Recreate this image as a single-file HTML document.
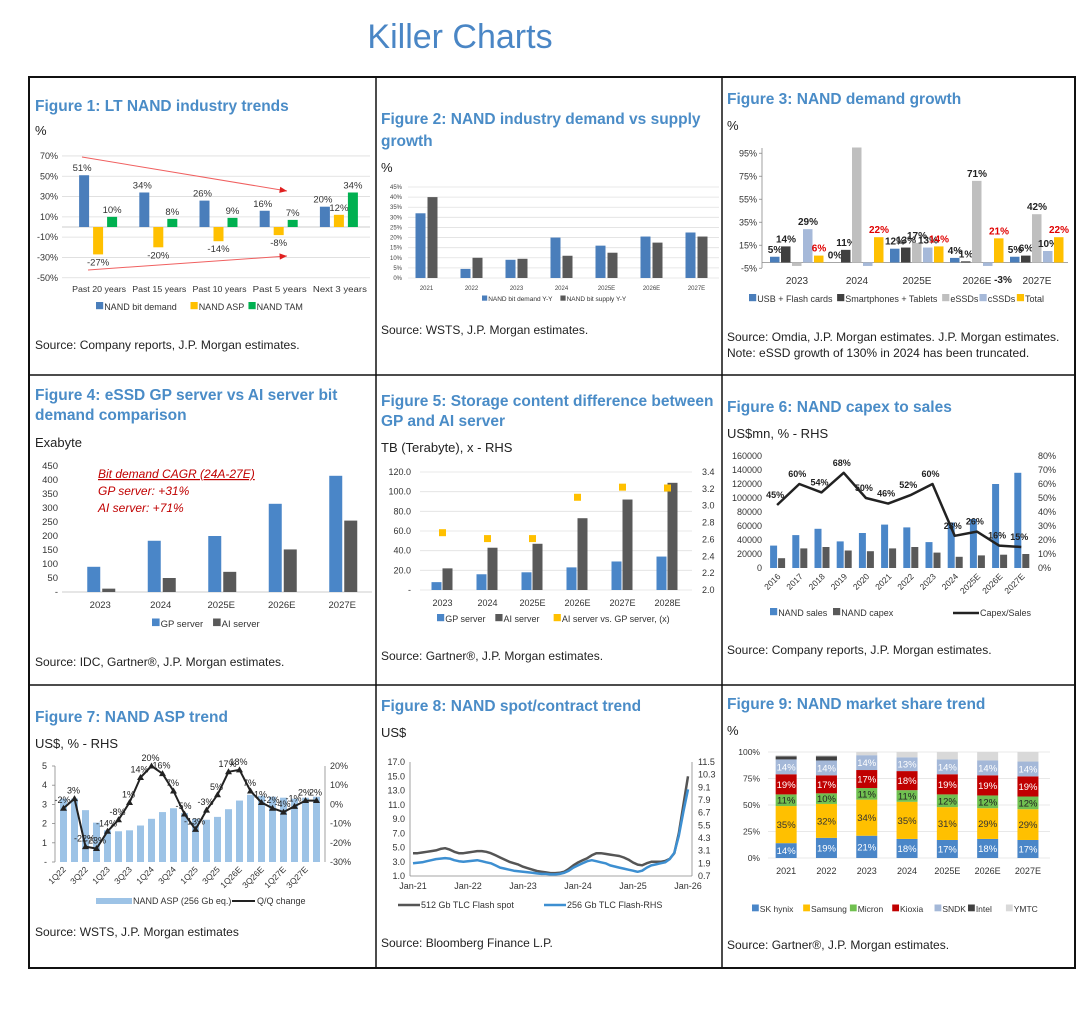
<!DOCTYPE html>
<html><head><meta charset="utf-8"><style>
html,body{margin:0;padding:0;background:#fff;}
svg{display:block;font-family:"Liberation Sans",sans-serif;}
.t{fill:#4a8cc7;font-weight:bold;font-size:15.5px;}
.s{fill:#222;font-size:12px;}
.u{fill:#222;font-size:13px;}
.k{fill:#333;font-size:9px;}
</style></head><body>
<svg id="chart" width="1080" height="1012" viewBox="0 0 1080 1012">
<text x="460" y="48" text-anchor="middle" font-size="34" fill="#4a86c5">Killer Charts</text>
<rect x="29" y="77" width="1046" height="891" fill="none" stroke="#111" stroke-width="2"/>
<line x1="376" y1="77" x2="376" y2="968" stroke="#111" stroke-width="1.5"/>
<line x1="722" y1="77" x2="722" y2="968" stroke="#111" stroke-width="1.5"/>
<line x1="29" y1="375" x2="1075" y2="375" stroke="#111" stroke-width="1.5"/>
<line x1="29" y1="685" x2="1075" y2="685" stroke="#111" stroke-width="1.5"/>

<text class="t" x="35" y="111">Figure 1: LT NAND industry trends</text>
<text class="u" x="35" y="135">%</text>
<text class="s" x="35" y="349">Source: Company reports, J.P. Morgan estimates.</text>

<text class="t" x="381" y="124">Figure 2: NAND industry demand vs supply</text>
<text class="t" x="381" y="146">growth</text>
<text class="u" x="381" y="172">%</text>
<text class="s" x="381" y="334">Source: WSTS, J.P. Morgan estimates.</text>

<text class="t" x="727" y="104">Figure 3: NAND demand growth</text>
<text class="u" x="727" y="130">%</text>
<text class="s" x="727" y="341">Source: Omdia, J.P. Morgan estimates. J.P. Morgan estimates.</text>
<text class="s" x="727" y="357">Note: eSSD growth of 130% in 2024 has been truncated.</text>

<text class="t" x="35" y="400">Figure 4: eSSD GP server vs AI server bit</text>
<text class="t" x="35" y="420">demand comparison</text>
<text class="u" x="35" y="447">Exabyte</text>
<text x="98" y="478" font-size="12" font-style="italic" fill="#c00000" text-decoration="underline">Bit demand CAGR (24A-27E)</text>
<text x="98" y="495" font-size="12" font-style="italic" fill="#c00000">GP server: +31%</text>
<text x="98" y="512" font-size="12" font-style="italic" fill="#c00000">AI server: +71%</text>
<text class="s" x="35" y="666">Source: IDC, Gartner®, J.P. Morgan estimates.</text>

<text class="t" x="381" y="406">Figure 5: Storage content difference between</text>
<text class="t" x="381" y="426">GP and AI server</text>
<text class="u" x="381" y="452">TB (Terabyte), x - RHS</text>
<text class="s" x="381" y="660">Source: Gartner®, J.P. Morgan estimates.</text>

<text class="t" x="727" y="412">Figure 6: NAND capex to sales</text>
<text class="u" x="727" y="438">US$mn, % - RHS</text>
<text class="s" x="727" y="654">Source: Company reports, J.P. Morgan estimates.</text>

<text class="t" x="35" y="722">Figure 7: NAND ASP trend</text>
<text class="u" x="35" y="748">US$, % - RHS</text>
<text class="s" x="35" y="936">Source: WSTS, J.P. Morgan estimates</text>

<text class="t" x="381" y="711">Figure 8: NAND spot/contract trend</text>
<text class="u" x="381" y="737">US$</text>
<text class="s" x="381" y="947">Source: Bloomberg Finance L.P.</text>

<text class="t" x="727" y="709">Figure 9: NAND market share trend</text>
<text class="u" x="727" y="735">%</text>
<text class="s" x="727" y="949">Source: Gartner®, J.P. Morgan estimates.</text>
</svg>
<script>
// ---------- data ----------
const f1Cats=['Past 20 years','Past 15 years','Past 10 years','Past 5 years','Next 3 years'];
const f1Demand=[51,34,26,16,20];
const f1ASP=[-27,-20,-14,-8,12];
const f1TAM=[10,8,9,7,34];
const f1Ticks=[70,50,30,10,-10,-30,-50];

const f2Cats=['2021','2022','2023','2024','2025E','2026E','2027E'];
const f2Demand=[32,4.5,9,20,16,20.5,22.5];
const f2Supply=[40,10,9.5,11,12.5,17.5,20.5];
const f2Ticks=[0,5,10,15,20,25,30,35,40,45];

const f3Cats=['2023','2024','2025E','2026E','2027E'];
const f3USB=[5,0,12,4,5];
const f3Phone=[14,11,13,1,6];
const f3eSSD=[-3,100,17,71,42];
const f3cSSD=[29,-3,13,-3,10];
const f3Total=[6,22,14,21,22];
const f3Ticks=[95,75,55,35,15,-5];

const f4Cats=['2023','2024','2025E','2026E','2027E'];
const f4GP=[90,183,200,315,415];
const f4AI=[12,50,72,152,255];
const f4Ticks=[0,50,100,150,200,250,300,350,400,450];

const f5Cats=['2023','2024','2025E','2026E','2027E','2028E'];
const f5GP=[8,16,18,23,29,34];
const f5AI=[22,43,47,73,92,109];
const f5Ratio=[2.68,2.61,2.61,3.1,3.22,3.21];
const f5LTicks=[0,20,40,60,80,100,120];
const f5RTicks=[2.0,2.2,2.4,2.6,2.8,3.0,3.2,3.4];

const f6Cats=['2016','2017','2018','2019','2020','2021','2022','2023','2024','2025E','2026E','2027E'];
const f6Sales=[32000,47000,56000,38000,50000,62000,58000,37000,65000,70000,120000,136000];
const f6Capex=[14000,28000,30000,25000,24000,28000,30000,22000,16000,18000,19000,20000];
const f6Ratio=[45,60,54,68,50,46,52,60,23,26,16,15];
const f6LTicks=[0,20000,40000,60000,80000,100000,120000,140000,160000];
const f6RTicks=[0,10,20,30,40,50,60,70,80];

const f7Cats=['1Q22','2Q22','3Q22','4Q22','1Q23','2Q23','3Q23','4Q23','1Q24','2Q24','3Q24','4Q24','1Q25','2Q25','3Q25','4Q25','1Q26E','2Q26E','3Q26E','4Q26E','1Q27E','2Q27E','3Q27E','4Q27E'];
const f7ASP=[3.3,3.3,2.7,2.05,1.65,1.6,1.65,1.9,2.25,2.6,2.8,2.55,2.25,2.2,2.35,2.75,3.2,3.5,3.45,3.4,3.35,3.3,3.35,3.4];
const f7QoQ=[-2,3,-22,-23,-14,-8,1,14,20,16,7,-5,-13,-3,5,17,18,7,1,-2,-4,-1,2,2];
const f7LTicks=[0,1,2,3,4,5];
const f7RTicks=[-30,-20,-10,0,10,20];

const f8XLabels=['Jan-21','Jan-22','Jan-23','Jan-24','Jan-25','Jan-26'];
const f8Spot=[4.2,4.2,4.3,4.4,4.5,4.6,4.8,4.9,4.7,4.4,4.2,4.2,
4.3,4.4,4.5,4.5,4.4,4.2,3.9,3.6,3.3,3.0,2.8,2.6,
2.3,2.1,1.9,1.7,1.6,1.5,1.4,1.4,1.45,1.6,2.0,2.5,
2.9,3.2,3.5,3.9,4.2,4.2,4.1,4.0,3.9,3.8,3.6,3.3,
2.9,2.6,2.5,2.8,3.0,3.0,3.0,3.1,3.4,4.2,7.0,11.0,15.0];
const f8Contract=[1.9,1.95,2.0,2.1,2.2,2.3,2.35,2.4,2.35,2.2,2.1,2.05,
2.1,2.15,2.2,2.1,2.0,1.9,1.7,1.5,1.4,1.3,1.2,1.15,
1.1,1.05,1.0,0.95,0.9,0.9,0.85,0.85,0.9,1.0,1.2,1.5,
1.7,1.9,2.1,2.2,2.1,2.0,1.9,1.7,1.6,1.5,1.4,1.3,
1.2,1.1,1.2,1.5,1.7,1.8,1.9,2.0,2.3,2.9,4.5,6.8,8.9];
const f8LTicks=[1,3,5,7,9,11,13,15,17];
const f8RTicks=[0.7,1.9,3.1,4.3,5.5,6.7,7.9,9.1,10.3,11.5];

const f9Cats=['2021','2022','2023','2024','2025E','2026E','2027E'];
const f9SK=[14,19,21,18,17,18,17];
const f9Samsung=[35,32,34,35,31,29,29];
const f9Micron=[11,10,11,11,12,12,12];
const f9Kioxia=[19,17,17,18,19,19,19];
const f9SNDK=[14,14,14,13,14,14,14];
const f9Intel=[3,4,0,0,0,0,0];
const f9YMTC=[1,1,3,5,7,8,9];
const f9Ticks=[0,25,50,75,100];

// ---------- helpers ----------
const NS='http://www.w3.org/2000/svg';
const svg=document.getElementById('chart');
function mk(tag,a,name){const e=document.createElementNS(NS,tag);for(const k in a)e.setAttribute(k,a[k]);


svg.appendChild(e);return e;}
function rect(x,y,w,h,fill,name){return mk('rect',{x:x,y:Math.min(y,y+h),width:w,height:Math.abs(h),fill:fill},name);}
function line(x1,y1,x2,y2,st,sw,name){return mk('line',{x1:x1,y1:y1,x2:x2,y2:y2,stroke:st,'stroke-width':sw},name);}
function text(x,y,s,size,anchor,fill,name,extra){const e=mk('text',Object.assign({x:x,y:y,'font-size':size,'text-anchor':anchor||'start',fill:fill||'#333'},extra||{}),name);e.textContent=s;return e;}
function poly(pts,st,sw,name){return mk('polyline',{points:pts.map(p=>p[0].toFixed(1)+','+p[1].toFixed(1)).join(' '),fill:'none',stroke:st,'stroke-width':sw,'stroke-linejoin':'round'},name);}
function legend(items,x,y,size,cf){cf=cf||0.52;let cx=x;items.forEach(it=>{
 rect(cx,y-size+1,size*0.8,size*0.8,it[1],'legend-swatch');
 const w=size*0.8;
 text(cx+w+1,y,it[0],size,'start','#333','legend-entry');cx+=w+2+it[0].length*size*cf+7;});}

// ---------- Figure 1 ----------
(function(){const y=v=>227-v*1.015;const x0=69,cw=60.2;
f1Ticks.forEach(t=>{line(62,y(t),370,y(t),'#dcdcdc',0.8,'fig1-gridline');text(58,y(t)+3,t+'%',9,'end','#333','fig1-y-tick');});
line(62,y(0),370,y(0),'#ccc',1,'fig1-zero-line');
const ser=[f1Demand,f1ASP,f1TAM],col=['#4a7ebb','#ffc000','#00b050'];
f1Cats.forEach((c,i)=>{const cx=x0+cw*(i+0.5);
 ser.forEach((s,j)=>{const bx=cx-20+j*14;rect(bx,y(0),10,y(s[i])-y(0),col[j],'fig1-bar');
  const ly=s[i]>=0?y(s[i])-4:y(s[i])+11;text(bx+5-(j==0?2:0),ly,s[i]+'%',9.5,'middle','#333','fig1-bar-label');});
 text(cx,292,c,8.6,'middle','#333','fig1-x-label',{textLength:54,lengthAdjust:'spacingAndGlyphs'});});
const ah=(x1,y1,x2,y2)=>{line(x1,y1,x2,y2,'#f06060',1,'fig1-trend-arrow');const a=Math.atan2(y2-y1,x2-x1);
 mk('polygon',{points:[[x2,y2],[x2-8*Math.cos(a-0.4),y2-8*Math.sin(a-0.4)],[x2-8*Math.cos(a+0.4),y2-8*Math.sin(a+0.4)]].map(p=>p.join(',')).join(' '),fill:'#e02020'},'fig1-arrow-head');};
ah(82,157,287,191);ah(88,270,287,256);
legend([['NAND bit demand','#4a7ebb'],['NAND ASP','#ffc000'],['NAND TAM','#00b050']],96,310,9,0.58);
})();

// ---------- Figure 2 ----------
(function(){const y=v=>278-v*(91/45);const x0=404,cw=45;
f2Ticks.forEach(t=>{line(408,y(t),719,y(t),'#e0e0e0',0.8,'fig2-gridline');text(402,y(t)+2,t+'%',6,'end','#444','fig2-y-tick');});
f2Cats.forEach((c,i)=>{const cx=x0+cw*(i+0.5);
 rect(cx-11,y(f2Demand[i]),10,y(0)-y(f2Demand[i]),'#4a7ebb','fig2-bar-demand');
 rect(cx+1,y(f2Supply[i]),10,y(0)-y(f2Supply[i]),'#595959','fig2-bar-supply');
 text(cx,290,c,6,'middle','#444','fig2-x-label');});
legend([['NAND bit demand Y-Y','#4a7ebb'],['NAND bit supply Y-Y','#595959']],482,301,6.5);
})();

// ---------- Figure 3 ----------
(function(){const y=v=>262.5-v*1.15;const x0=767,cw=60;
f3Ticks.forEach(t=>{text(757,y(t)+3,t+'%',9,'end','#333','fig3-y-tick');line(759,y(t),762,y(t),'#888',0.8,'fig3-tick-mark');});
line(762,148,762,268,'#888',0.8,'fig3-y-axis');line(762,y(0),1068,y(0),'#888',0.8,'fig3-x-axis');
const ser=[f3USB,f3Phone,f3eSSD,f3cSSD,f3Total],col=['#4a7ebb','#404040','#bfbfbf','#a6b9d9','#ffc000'];
f3Cats.forEach((c,i)=>{const cx=x0+cw*(i+0.5);
 ser.forEach((s,j)=>{const bx=cx-27+j*11;rect(bx,y(0),9.5,y(s[i])-y(0),col[j],'fig3-bar');
  if(s[i]>=0&&!(j==2&&i==1)){text(bx+5,y(s[i])-4,s[i]+'%',10,'middle',j==4?'#e00000':'#222','fig3-bar-label',{'font-weight':'bold'});}
  if(s[i]<0&&i==3&&j==3){text(bx+20,283,s[i]+'%',10,'middle','#222','fig3-bar-label',{'font-weight':'bold'});}});
 text(cx,284,c,10,'middle','#333','fig3-x-label');});
legend([['USB + Flash cards','#4a7ebb'],['Smartphones + Tablets','#404040'],['eSSDs','#bfbfbf'],['cSSDs','#a6b9d9'],['Total','#ffc000']],749,302,9,0.47);
})();

// ---------- Figure 4 ----------
(function(){const y=v=>592-v*0.28;const x0=70,cw=60.5;
f4Ticks.forEach(t=>{text(58,y(t)+3,t===0?'-':String(t),9.5,'end','#333','fig4-y-tick');});
line(62,y(0),372,y(0),'#ccc',1,'fig4-x-axis');
f4Cats.forEach((c,i)=>{const cx=x0+cw*(i+0.5);
 rect(cx-13,y(f4GP[i]),13,y(0)-y(f4GP[i]),'#4a86c8','fig4-bar-gp');
 rect(cx+2,y(f4AI[i]),13,y(0)-y(f4AI[i]),'#595959','fig4-bar-ai');
 text(cx,608,c,9.5,'middle','#333','fig4-x-label');});
legend([['GP server','#4a86c8'],['AI server','#595959']],152,627,9.5);
})();

// ---------- Figure 5 ----------
(function(){const y=v=>590-v*(118/120);const yr=r=>590-(r-2)*(118/1.4);const x0=420,cw=45;
f5LTicks.forEach(t=>{line(420,y(t),692,y(t),'#e0e0e0',0.8,'fig5-gridline');text(411,y(t)+3,t===0?'-':t.toFixed(1),9,'end','#333','fig5-y-tick');});
f5RTicks.forEach(t=>{text(702,yr(t)+3,t.toFixed(1),9,'start','#333','fig5-rhs-tick');});
f5Cats.forEach((c,i)=>{const cx=x0+cw*(i+0.5);
 rect(cx-11,y(f5GP[i]),10,y(0)-y(f5GP[i]),'#4a86c8','fig5-bar-gp');
 rect(cx,y(f5AI[i]),10,y(0)-y(f5AI[i]),'#595959','fig5-bar-ai');
 rect(cx-3.5,yr(f5Ratio[i])-3.5,7,7,'#ffc000','fig5-ratio-marker');
 text(cx,606,c,9,'middle','#333','fig5-x-label');});
legend([['GP server','#4a86c8'],['AI server','#595959'],['AI server vs. GP server, (x)','#ffc000']],437,622,9);
})();

// ---------- Figure 6 ----------
(function(){const y=v=>568-v*(112/160000);const yr=p=>568-p*1.4;const x0=766,cw=22.2;
f6LTicks.forEach(t=>{text(762,y(t)+3,String(t),9,'end','#333','fig6-y-tick');});
f6RTicks.forEach(t=>{text(1038,yr(t)+3,t+'%',9,'start','#333','fig6-rhs-tick');});
const pts=[];
f6Cats.forEach((c,i)=>{const cx=x0+cw*(i+0.5);
 rect(cx-7,y(f6Sales[i]),7,y(0)-y(f6Sales[i]),'#4a86c8','fig6-bar-sales');
 rect(cx+1,y(f6Capex[i]),7,y(0)-y(f6Capex[i]),'#595959','fig6-bar-capex');
 pts.push([cx,yr(f6Ratio[i])]);
 text(cx+4,577,c,8.5,'end','#333','fig6-x-label',{transform:'rotate(-45 '+(cx+4)+' 577)'});});
poly(pts,'#222',2.5,'fig6-capex-sales-line');
pts.forEach((p,i)=>text(p[0]-2,p[1]-7,f6Ratio[i]+'%',9,'middle','#222','fig6-line-label',{'font-weight':'bold'}));
legend([['NAND sales','#4a86c8'],['NAND capex','#595959']],770,616,9);
line(953,613,979,613,'#222',2.5,'fig6-legend-line');text(980,616,'Capex/Sales',9,'start','#333','fig6-legend-entry');
})();

// ---------- Figure 7 ----------
(function(){const y=v=>862-v*19.2;const yr=p=>862-(p+30)*1.92;const x0=58,cw=11;
f7LTicks.forEach(t=>{text(47,y(t)+3,t===0?'-':String(t),9,'end','#333','fig7-y-tick');line(52,y(t),55,y(t),'#888',0.8,'fig7-tick');});
line(55,766,55,862,'#888',0.8,'fig7-y-axis');line(325,766,325,862,'#888',0.8,'fig7-rhs-axis');
f7RTicks.forEach(t=>{text(330,yr(t)+3,t+'%',9,'start','#333','fig7-rhs-tick');});
const pts=[];
f7Cats.forEach((c,i)=>{const cx=x0+cw*(i+0.5);
 rect(cx-3.5,y(f7ASP[i]),7,y(0)-y(f7ASP[i]),'#9dc3e6','fig7-bar-asp');
 pts.push([cx,yr(f7QoQ[i])]);
 if(i%2===0)text(cx+3,870,c,8.5,'end','#333','fig7-x-label',{transform:'rotate(-45 '+(cx+3)+' 870)'});});
poly(pts,'#222',2,'fig7-qoq-line');
pts.forEach((p,i)=>{mk('polygon',{points:[[p[0],p[1]-3.5],[p[0]-3.5,p[1]+2.5],[p[0]+3.5,p[1]+2.5]].map(q=>q.join(',')).join(' '),fill:'#222'},'fig7-qoq-marker');
 text(p[0]-1,p[1]-5,f7QoQ[i]+'%',9,'middle','#222','fig7-point-label');});
rect(96,898,36,6,'#9dc3e6','fig7-legend-swatch');text(133,904,'NAND ASP (256 Gb eq.)',9,'start','#333','fig7-legend-entry');
line(232,901,255,901,'#222',2,'fig7-legend-line');text(257,904,'Q/Q change',9,'start','#333','fig7-legend-entry');
})();

// ---------- Figure 8 ----------
(function(){const y=v=>876-(v-1)*7.125;const yr=r=>876-(r-0.7)*(114/10.8);const x=i=>413+i*(55/12);
f8LTicks.forEach(t=>{text(405,y(t)+3,t.toFixed(1),9,'end','#333','fig8-y-tick');});
f8RTicks.forEach(t=>{text(698,yr(t)+3,t.toFixed(1),9,'start','#333','fig8-rhs-tick');});
line(410,762,410,876,'#888',0.8,'fig8-y-axis');line(410,876,692,876,'#888',0.8,'fig8-x-axis');line(692,762,692,876,'#888',0.8,'fig8-rhs-axis');
f8XLabels.forEach((l,i)=>text(x(i*12),889,l,9,'middle','#333','fig8-x-label'));
poly(f8Spot.map((v,i)=>[x(i),y(v)]),'#555',2.5,'fig8-spot-line');
poly(f8Contract.map((v,i)=>[x(i),yr(v)]),'#3d8fd1',2.5,'fig8-contract-line');
line(398,905,420,905,'#555',2.5,'fig8-legend-line');text(421,908,'512 Gb TLC Flash spot',9,'start','#333','fig8-legend-entry');
line(544,905,566,905,'#3d8fd1',2.5,'fig8-legend-line');text(567,908,'256 Gb TLC Flash-RHS',9,'start','#333','fig8-legend-entry');
})();

// ---------- Figure 9 ----------
(function(){const y=v=>858-v*1.06;const x0=766,cw=40.3;
f9Ticks.forEach(t=>{line(768,y(t),1050,y(t),'#e0e0e0',0.8,'fig9-gridline');text(760,y(t)+3,t+'%',8.5,'end','#333','fig9-y-tick');});
const ser=[f9SK,f9Samsung,f9Micron,f9Kioxia,f9SNDK,f9Intel,f9YMTC];
const col=['#4a86c8','#ffc000','#70c050','#c00000','#a4b8d8','#404040','#d9d9d9'];
const tc=['#fff','#333','#222','#fff','#fff','#fff','#333'];
f9Cats.forEach((c,i)=>{const cx=x0+cw*(i+0.5);let acc=0;
 ser.forEach((s,j)=>{if(s[i]>0){rect(cx-10.5,y(acc+s[i]),21,y(acc)-y(acc+s[i]),col[j],'fig9-stack-segment');
  if(j<5)text(cx,y(acc+s[i]/2)+3.5,s[i]+'%',9.5,'middle',tc[j],'fig9-segment-label');}acc+=s[i];});
 text(cx,874,c,9,'middle','#333','fig9-x-label');});
legend([['SK hynix','#4a86c8'],['Samsung','#ffc000'],['Micron','#70c050'],['Kioxia','#c00000'],['SNDK','#a4b8d8'],['Intel','#404040'],['YMTC','#d9d9d9']],752,912,8.5);
})();
</script>
</body></html>
